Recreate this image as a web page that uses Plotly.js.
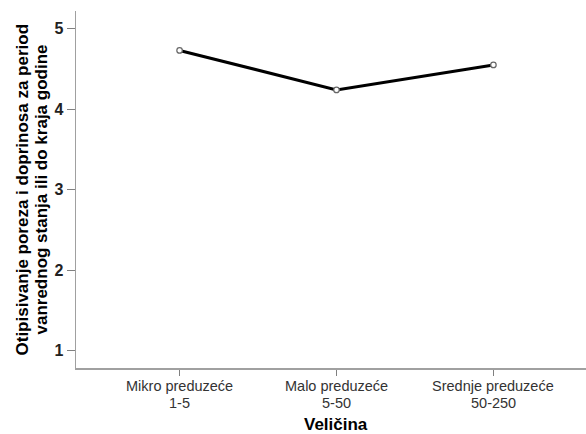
<!DOCTYPE html>
<html>
<head>
<meta charset="utf-8">
<script src="https://cdn.plot.ly/plotly-3.0.1.min.js"></script>
<style>html,body{margin:0;padding:0;background:#fff;}#chart{width:586px;height:434px;}</style>
</head>
<body>
<div id="chart"></div>
<script>
const categoryNames = ["Mikro preduzeće", "Malo preduzeće", "Srednje preduzeće"];
const categoryRanges = ["1-5", "5-50", "50-250"];
const values = [4.73, 4.24, 4.55];
const yTicks = [1, 2, 3, 4, 5];
const xTitle = "Veličina";
const yTitleLines = ["Otipisivanje poreza i doprinosa za period", "vanrednog stanja ili do kraja godine"];

const xIdx = categoryNames.map((_, i) => i);

const trace = {
  x: xIdx,
  y: values,
  type: 'scatter',
  mode: 'lines+markers',
  line: {color: '#000000', width: 3},
  marker: {symbol: 'circle', size: 5.5, color: '#ffffff', line: {color: '#666666', width: 1.2}},
  hoverinfo: 'skip'
};

const annotations = [];
xIdx.forEach(i => {
  annotations.push({x: i, xref: 'x', y: 0, yref: 'paper', yanchor: 'middle', xanchor: 'center',
    yshift: -18, text: categoryNames[i], showarrow: false, borderpad: 0, font: {size: 14.5, color: '#333333'}});
  annotations.push({x: i, xref: 'x', y: 0, yref: 'paper', yanchor: 'middle', xanchor: 'center',
    yshift: -35, text: categoryRanges[i], showarrow: false, borderpad: 0, font: {size: 14.5, color: '#333333'}});
});
annotations.push({x: 1, xref: 'x', y: 0, yref: 'paper', yanchor: 'middle', xanchor: 'center',
  yshift: -56, text: '<b>' + xTitle + '</b>', showarrow: false, borderpad: 0, font: {size: 17, color: '#000'}});
yTitleLines.forEach((t, k) => {
  annotations.push({x: 0, xref: 'paper', y: 0.5, yref: 'paper', xanchor: 'center', yanchor: 'middle',
    xshift: [-54, -35][k], textangle: -90, text: '<b>' + t + '</b>', showarrow: false, borderpad: 0,
    font: {size: 17, color: '#000'}});
});

const layout = {
  width: 586, height: 434,
  margin: {l: 76, r: 0, t: 11, b: 66},
  paper_bgcolor: '#ffffff', plot_bgcolor: '#ffffff',
  showlegend: false,
  font: {family: 'Liberation Sans, Arial, sans-serif', color: '#000'},
  xaxis: {
    range: [-0.66, 2.59],
    tickmode: 'array', tickvals: xIdx, showticklabels: false,
    showgrid: false, zeroline: false,
    showline: true, linecolor: '#a0a0a0', linewidth: 1.5,
    ticks: 'outside', ticklen: 6, tickcolor: '#808080', tickwidth: 1
  },
  yaxis: {
    range: [0.785, 5.22],
    tickmode: 'array', tickvals: yTicks, ticktext: yTicks.map(String),
    showgrid: false, zeroline: false,
    showline: true, linecolor: '#a0a0a0', linewidth: 1.5,
    ticks: 'outside', ticklen: 8, tickcolor: '#808080', tickwidth: 1,
    tickfont: {size: 16, color: '#222222', weight: 'bold'}
  },
  annotations: annotations
};

Plotly.newPlot('chart', [trace], layout, {staticPlot: true, displayModeBar: false});
</script>
</body>
</html>
